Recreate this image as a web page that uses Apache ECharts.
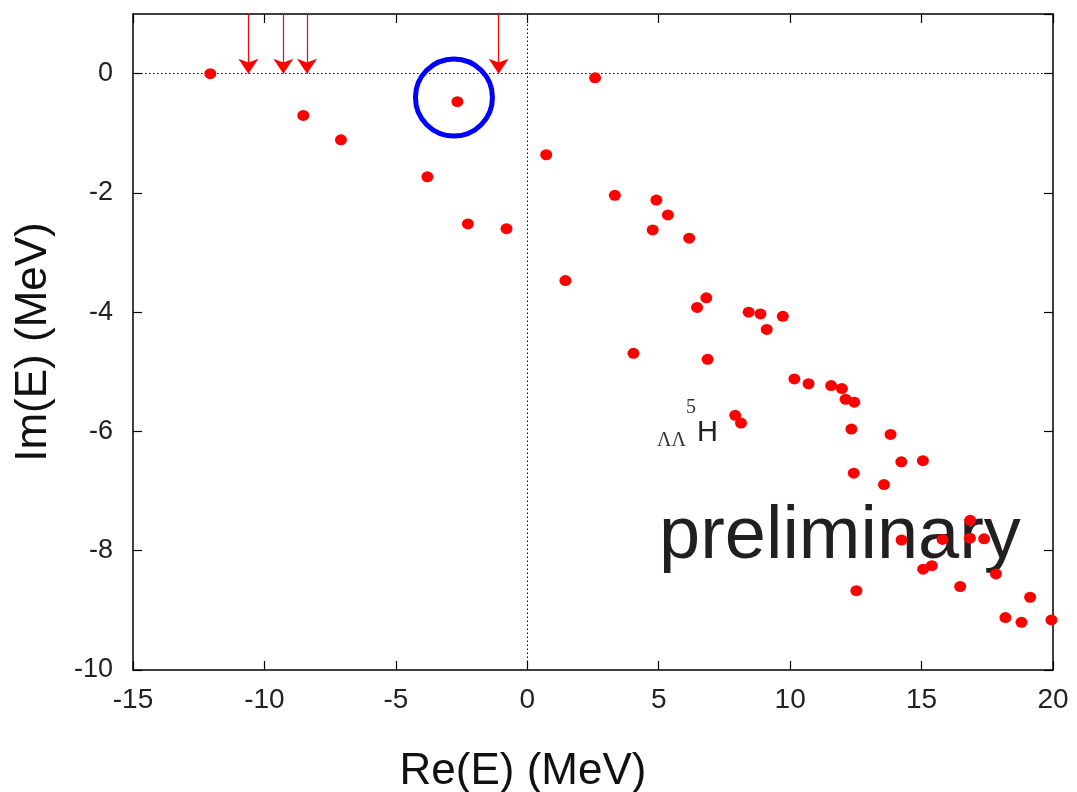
<!DOCTYPE html>
<html>
<head>
<meta charset="utf-8">
<script src="https://cdn.jsdelivr.net/npm/echarts@6/dist/echarts.min.js"></script>
<style>html,body{margin:0;padding:0;background:#fff}#c{width:1077px;height:792px}</style>
</head>
<body>
<div id="c"></div>
<script>
// Re(E) and Im(E) of the poles (MeV)
var reE = [-12.06, -8.52, -7.09, -3.80, -2.66, -2.26, -0.79, 0.72, 2.58, 3.33, 4.91, 5.35, 4.77, 6.16, 1.45,
  6.81, 6.46, 8.42, 8.87, 9.72, 9.11, 4.04, 6.86, 10.16, 10.70, 7.91, 8.13, 11.56, 11.97, 12.11, 12.44,
  12.33, 13.82, 14.23, 15.05, 12.42, 13.57, 16.85, 14.24, 15.80, 16.84, 17.38, 15.06, 15.39, 17.83,
  16.47, 12.52, 19.13, 18.19, 18.80, 19.94];
var imE = [0.00, -0.70, -1.11, -1.73, -0.47, -2.52, -2.60, -1.36, -0.07, -2.04, -2.12, -2.37, -2.62, -2.76, -3.47,
  -3.76, -3.92, -4.00, -4.03, -4.07, -4.29, -4.69, -4.79, -5.12, -5.20, -5.73, -5.86, -5.23, -5.28, -5.46, -5.51,
  -5.96, -6.05, -6.51, -6.49, -6.70, -6.89, -7.49, -7.82, -7.81, -7.79, -7.80, -8.31, -8.25, -8.39,
  -8.60, -8.67, -8.78, -9.12, -9.20, -9.16];
// threshold arrows (Re(E) positions), drawn from top of plot down to Im(E)=0
var arrowRe = [-10.61, -9.28, -8.38, -1.09];
var arrowTop = 1, arrowTip = 0;
// highlighted pole circle
var circleCenter = [-2.79, -0.40];
// axis ranges
var xRange = [-15, 20], xStep = 5;
var yRange = [-10, 1], yStep = 2;
var xName = 'Re(E) (MeV)', yName = 'Im(E) (MeV)';

var points = reE.map(function (r, i) { return [r, imE[i]]; });
var arrows = arrowRe.map(function (r) { return { coords: [[r, arrowTop], [r, arrowTip]] }; });
var zeroLines = [
  { coords: [[0, yRange[0]], [0, yRange[1]]] },
  { coords: [[xRange[0], 0], [xRange[1], 0]] }
];

var sans = '"Liberation Sans", Arial, Helvetica, sans-serif';
var serif = '"Liberation Serif", "Times New Roman", serif';
var lineCol = '#000';
function axisCommon(showLabel, isX) {
  return {
    type: 'value',
    min: isX ? xRange[0] : yRange[0],
    max: isX ? xRange[1] : yRange[1],
    interval: isX ? xStep : yStep,
    axisLine: { show: true, onZero: false, lineStyle: { color: lineCol, width: 1.5 } },
    axisTick: { show: true, inside: true, length: 9, lineStyle: { color: lineCol, width: 1.2 } },
    splitLine: { show: false },
    axisLabel: {
      show: showLabel,
      color: '#222',
      fontSize: isX ? 28 : 27,
      fontFamily: sans,
      margin: isX ? 16 : 20,
      showMaxLabel: isX ? true : false,
      formatter: function (v) { return (!isX && v > 0.5) ? '' : String(v); }
    }
  };
}

var chart = echarts.init(document.getElementById('c'), null, { renderer: 'canvas' });
var xa0 = axisCommon(true, true); xa0.position = 'bottom';
var xa1 = axisCommon(false, true); xa1.position = 'top';
var ya0 = axisCommon(true, false); ya0.position = 'left';
var ya1 = axisCommon(false, false); ya1.position = 'right';

chart.setOption({
  animation: false,
  backgroundColor: '#fff',
  grid: { left: 133, right: 24, top: 14, bottom: 122, containLabel: false },
  xAxis: [xa0, xa1],
  yAxis: [ya0, ya1],
  graphic: [
    { type: 'text', z: 1, x: 659, y: 538, style: { text: 'preliminary', font: '74px ' + sans, fill: '#231f20', textAlign: 'left', textVerticalAlign: 'middle', align: 'left', verticalAlign: 'middle' } },
    { type: 'text', z: 1, x: 657, y: 441, style: { text: 'ΛΛ', font: '20px ' + serif, fill: '#333', textAlign: 'left', textVerticalAlign: 'middle', align: 'left', verticalAlign: 'middle' } },
    { type: 'text', z: 1, x: 686, y: 408, style: { text: '5', font: '20px ' + serif, fill: '#333', textAlign: 'left', textVerticalAlign: 'middle', align: 'left', verticalAlign: 'middle' } },
    { type: 'text', z: 1, x: 697, y: 433, style: { text: 'H', font: '29px ' + sans, fill: '#222', textAlign: 'left', textVerticalAlign: 'middle', align: 'left', verticalAlign: 'middle' } },
    { type: 'text', z: 1, x: 523, y: 772, style: { text: xName, font: '44px ' + sans, fill: '#111', textAlign: 'center', textVerticalAlign: 'middle', align: 'center', verticalAlign: 'middle' } },
    { type: 'text', z: 1, x: 34, y: 342, rotation: Math.PI / 2, style: { text: yName, font: '44px ' + sans, fill: '#111', textAlign: 'center', textVerticalAlign: 'middle', align: 'center', verticalAlign: 'middle' } }
  ],
  series: [
    {
      type: 'lines', coordinateSystem: 'cartesian2d', z: 1, silent: true,
      symbol: ['none', 'none'],
      lineStyle: { color: '#000', width: 1, type: [1.5, 2.5], opacity: 1 },
      data: zeroLines
    },
    {
      type: 'lines', coordinateSystem: 'cartesian2d', z: 3, silent: true,
      symbol: ['none', 'arrow'], symbolSize: [13, 15],
      lineStyle: { color: '#ff0000', width: 1.2, opacity: 1 },
      itemStyle: { color: '#ff0000' },
      data: arrows
    },
    {
      type: 'scatter', z: 4, silent: true, symbol: 'circle', symbolSize: [12, 11],
      itemStyle: { color: '#ff0000', opacity: 1 },
      data: points
    },
    {
      type: 'scatter', z: 5, silent: true, symbol: 'circle', symbolSize: 77,
      itemStyle: { color: 'rgba(0,0,0,0)', borderColor: '#0000ff', borderWidth: 5, opacity: 1 },
      data: [circleCenter]
    }
  ]
});
</script>
</body>
</html>
